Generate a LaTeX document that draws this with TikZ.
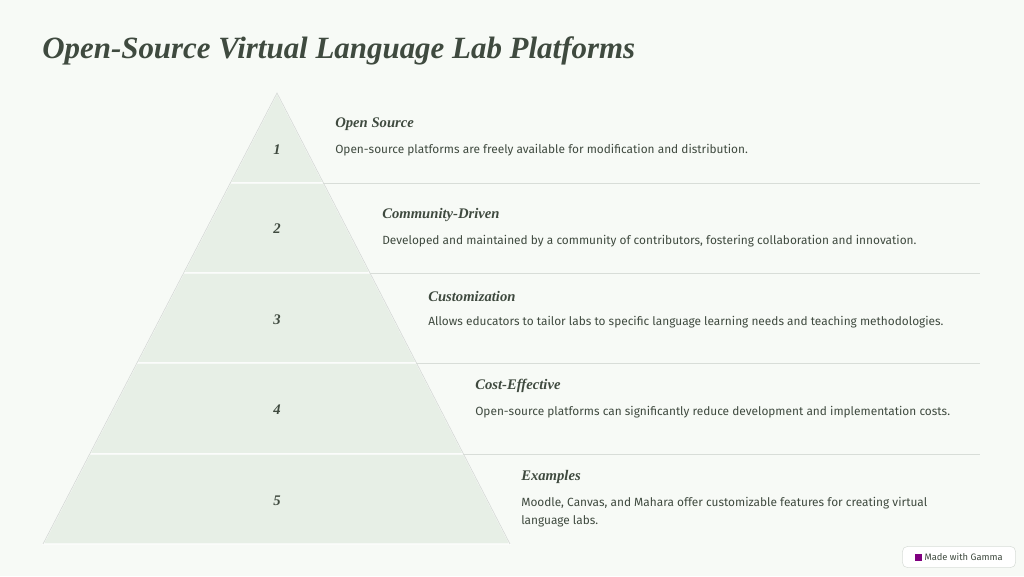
\documentclass[tikz,border=0pt]{standalone}
\usepackage{fontspec}
\setmainfont{Liberation Serif}
\newfontfamily\bodyfont{Fira Sans}
\definecolor{bgc}{HTML}{F7FAF6}
\definecolor{bandc}{HTML}{E7EFE6}
\definecolor{inkc}{HTML}{3F4A3F}
\definecolor{linec}{HTML}{D8DDD8}
\begin{document}
\begin{tikzpicture}[x=0.75pt, y=-0.75pt,
    band/.style = {fill = bandc, draw = white, line width = 1pt},
    sepline/.style = {draw = linec, line width = 0.6pt},
    numtext/.style = {font = \bfseries\itshape\fontsize{11}{13}\selectfont, text = inkc},
    headtext/.style = {font = \bfseries\itshape\fontsize{11}{12}\selectfont, text = inkc, anchor = west, inner sep = 0pt},
    bodytext/.style = {font = \bodyfont\fontsize{8.9}{14}\selectfont, text = inkc, anchor = west, inner sep = 0pt, align = left}
  ]
  \fill[bgc] (0,0) rectangle (1024,576);
  \useasboundingbox (0,0) rectangle (1024,576);
  % title
  \node[anchor = west, inner sep = 0pt, text = inkc,
    font = \bfseries\itshape\fontsize{23.2}{26}\selectfont] (title) at (42,51)
    {Open-Source Virtual Language Lab Platforms};
  % pyramid bands
  \coordinate (apex) at (277,93);
  \foreach \ya/\yb [count=\i] in {93/183, 183/273, 273/363, 363/454, 454/544} {
    \pgfmathsetmacro{\la}{277-(\ya-93)*0.5188}
    \pgfmathsetmacro{\lb}{277-(\yb-93)*0.5188}
    \pgfmathsetmacro{\ra}{277+(\ya-93)*0.5166}
    \pgfmathsetmacro{\rb}{277+(\yb-93)*0.5166}
    \path[band] (\la,\ya) -- (\ra,\ya) -- (\rb,\yb) -- (\lb,\yb) -- cycle;
    \coordinate (edge\i) at (\rb,\yb);
  }
  \draw[linec, line width = 0.6pt] (43,544) -- (apex) -- (510,544);
  % separators
  \foreach \i in {1,...,4} {
    \path[sepline] (edge\i) -- (980,0 |- edge\i);
  }
  % numbers
  \node[numtext] (n1) at (277,150) {1};
  \node[numtext] (n2) at (277,229) {2};
  \node[numtext] (n3) at (277,320) {3};
  \node[numtext] (n4) at (277,410) {4};
  \node[numtext] (n5) at (277,501) {5};
  % texts
  \node[headtext] (h1) at (335,124) {Open Source};
  \node[bodytext] (b1) at (335,150) {Open-source platforms are freely available for modification and distribution.};
  \node[headtext] (h2) at (382,215) {Community-Driven};
  \node[bodytext] (b2) at (382,241) {Developed and maintained by a community of contributors, fostering collaboration and innovation.};
  \node[headtext] (h3) at (428,296) {Customization};
  \node[bodytext] (b3) at (428,322) {Allows educators to tailor labs to specific language learning needs and teaching methodologies.};
  \node[headtext] (h4) at (475,386) {Cost-Effective};
  \node[bodytext] (b4) at (475,412) {Open-source platforms can significantly reduce development and implementation costs.};
  \node[headtext] (h5) at (521,477) {Examples};
  \node[bodytext] (b5) at (521,512) {Moodle, Canvas, and Mahara offer customizable features for creating virtual\\language labs.};
  % badge
  \node[draw = linec, fill = white, rounded corners = 4pt, minimum width = 85pt, minimum height = 16pt,
    font = \bodyfont\fontsize{7}{8}\selectfont, text = inkc] (badge) at (959,557)
    {\textcolor{violet}{\rule{5pt}{5pt}}\ Made with Gamma};
\end{tikzpicture}
\end{document}
